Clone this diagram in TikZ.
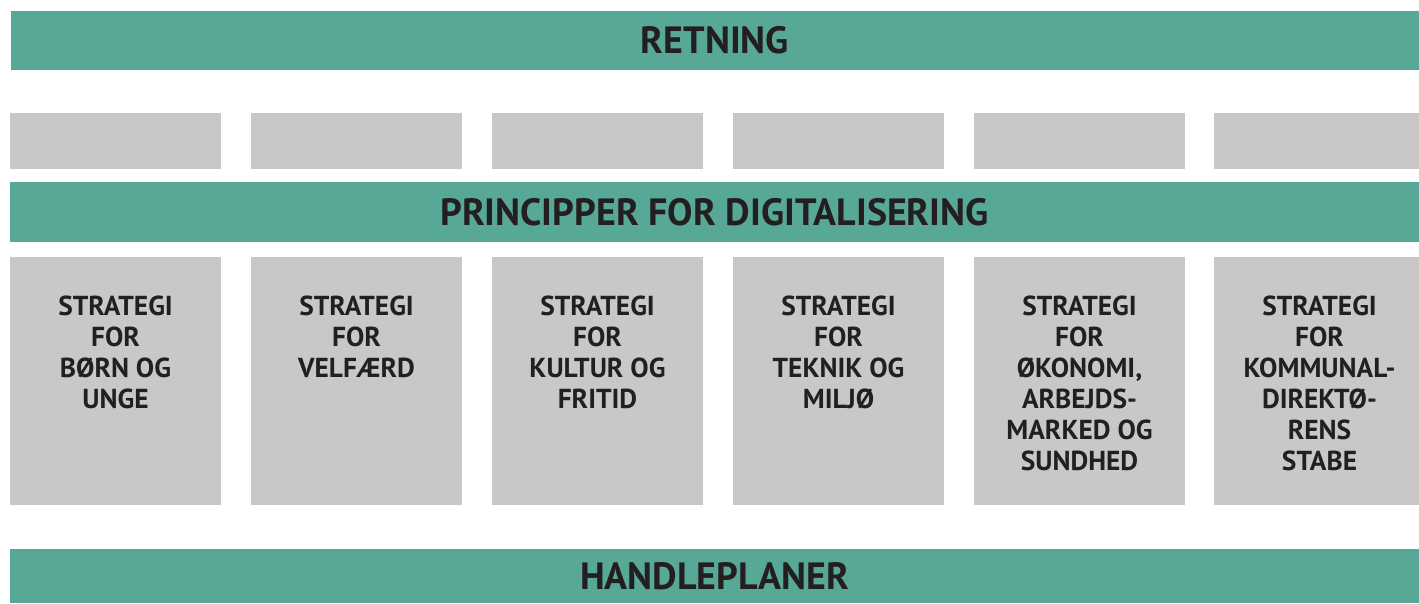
\documentclass[tikz,border=0pt]{standalone}
\usepackage{fontspec}
\setmainfont{PT Sans}
\definecolor{bargreen}{RGB}{88,168,152}
\definecolor{boxgray}{RGB}{200,200,200}
\definecolor{txtdark}{RGB}{35,31,32}
\begin{document}
\begin{tikzpicture}[x=0.01cm,y=-0.01cm,
  bar/.style={fill=bargreen,inner sep=0,text=txtdark,font=\bfseries\fontsize{10.8}{13}\selectfont},
  slot/.style={fill=boxgray,inner sep=0,minimum width=2.11cm,minimum height=0.56cm},
  stratbox/.style={fill=boxgray,inner sep=0,minimum width=2.11cm,minimum height=2.48cm},
  strattext/.style={anchor=north,inner sep=0,align=center,text=txtdark,font=\bfseries\fontsize{7.8}{8.8}\selectfont}]
\useasboundingbox (0,0) rectangle (1419,603);
\node[bar,minimum width=14.08cm,minimum height=0.59cm] (retning) at (715,40.5) {RETNING};
\node[slot] (p1) at (115.5,141) {};
\node[slot] (p2) at (356.5,141) {};
\node[slot] (p3) at (597.5,141) {};
\node[slot] (p4) at (838.5,141) {};
\node[slot] (p5) at (1079.5,141) {};
\node[slot,minimum width=2.05cm] (p6) at (1316.5,141) {};
\node[bar,minimum width=14.09cm,minimum height=0.60cm] (principper) at (714.5,212) {PRINCIPPER FOR DIGITALISERING};
\node[stratbox] (s1) at (115.5,381) {};
\node[stratbox] (s2) at (356.5,381) {};
\node[stratbox] (s3) at (597.5,381) {};
\node[stratbox] (s4) at (838.5,381) {};
\node[stratbox] (s5) at (1079.5,381) {};
\node[stratbox,minimum width=2.05cm] (s6) at (1316.5,381) {};
\node[strattext] (t1) at (115.5,295) {STRATEGI\\FOR\\BØRN OG\\UNGE};
\node[strattext] (t2) at (356.5,295) {STRATEGI\\FOR\\VELFÆRD};
\node[strattext] (t3) at (597.5,295) {STRATEGI\\FOR\\KULTUR OG\\FRITID};
\node[strattext] (t4) at (838.5,295) {STRATEGI\\FOR\\TEKNIK OG\\MILJØ};
\node[strattext] (t5) at (1079.5,295) {STRATEGI\\FOR\\ØKONOMI,\\ARBEJDS-\\MARKED OG\\SUNDHED};
\node[strattext] (t6) at (1319.5,295) {STRATEGI\\FOR\\KOMMUNAL-\\DIREKTØ-\\RENS\\STABE};
\node[bar,minimum width=14.09cm,minimum height=0.54cm] (handleplaner) at (714.5,576) {HANDLEPLANER};
\end{tikzpicture}
\end{document}
